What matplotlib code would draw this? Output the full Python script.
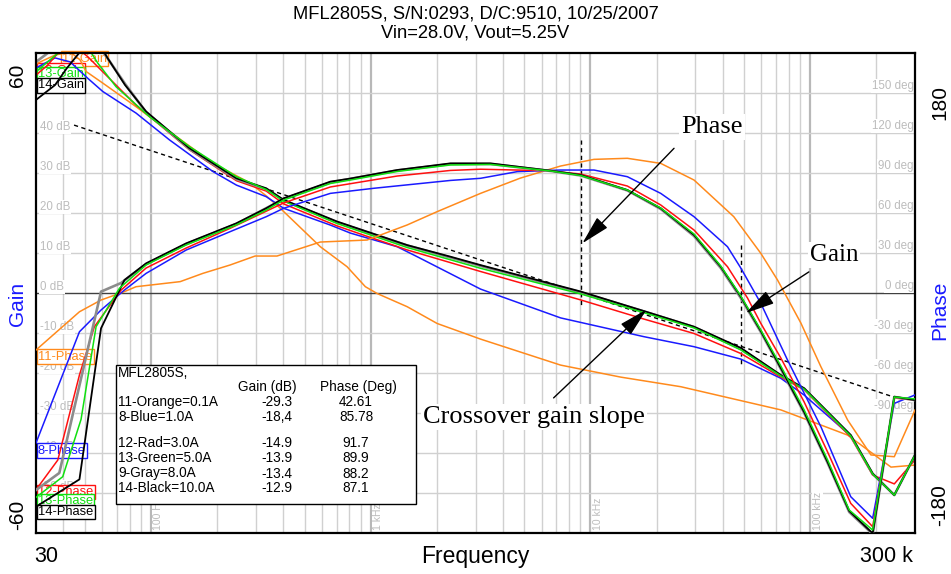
import matplotlib
matplotlib.use('Agg')
import matplotlib.pyplot as plt
from matplotlib.patches import Rectangle
from matplotlib.ticker import NullLocator

plt.rcParams['font.family'] = ['Liberation Sans', 'DejaVu Sans']

W, H = 951, 574

# --- gain curves (Hz, dB) ---
f_orange_gain = [30, 36.6, 42.9, 47.6, 50.7, 60.4, 85.6, 121.5, 191.5, 283, 335, 388, 590, 781, 946,
                 1070, 1466, 2008, 3163, 7318, 13730, 25770, 73560, 148100, 233300, 300000]
orange_gain = [57.2, 59.4, 60.2, 58.2, 55.3, 52.4, 46.5, 40.3, 32.4, 27.4, 24.2, 21.1, 11.5, 6.5, 1.5,
               -0.2, -3.5, -7.7, -11.6, -18.1, -21.1, -23.5, -29.3, -35.6, -43.6, -43.1]

f_blue_gain = [30, 36.6, 42.9, 51.6, 60.4, 85.6, 121.5, 191.5, 245, 335, 402, 656, 809, 1320, 1628,
               3163, 7318, 17540, 29620, 48360, 73560, 93940, 153000, 192500, 241500, 300000]
blue_gain = [56.2, 58.7, 57.7, 53.6, 50.3, 44.9, 38.2, 30.3, 26.9, 24.0, 21.1, 16.9, 14.9, 11.5, 9.0,
             0.9, -6.3, -11.0, -13.5, -16.6, -21.4, -25.6, -35.8, -45.3, -50.6, -40.6]

f_red_gain = [30, 33.9, 38.3, 43.8, 51.6, 62.5, 85.6, 150, 245, 335, 402, 703, 929, 1466, 3163,
              9026, 17540, 29620, 48360, 73560, 93940, 153000, 192500, 241500, 300000]
red_gain = [54.4, 56.9, 60.3, 62.2, 59.0, 54.4, 46.9, 35.7, 28.0, 25.4, 22.2, 16.7, 14.4, 10.7, 5.3,
            -1.8, -6.6, -10.2, -15.2, -21.1, -24.3, -36.1, -45.6, -47.8, -41.8]

f_green_gain = [30, 34.7, 39.4, 45.1, 51.8, 57.3, 69.4, 98.5, 150, 245, 335, 402, 703, 1466, 3163,
                9026, 17540, 29620, 48360, 73560, 93940, 153000, 192500, 241500, 300000]
green_gain = [55.2, 58.2, 60.7, 62.2, 61.2, 57.4, 51.5, 44.0, 36.5, 29.0, 25.8, 22.9, 17.3, 11.3, 6.1,
              -0.3, -5.0, -8.8, -14.3, -20.8, -24.1, -35.8, -45.3, -50.6, -40.6]

f_gray_gain = [30, 33.0, 36.6, 55.7, 61.2, 76.3, 95.1, 150, 245, 335, 402, 703, 1466, 3163,
               9026, 17540, 29620, 48360, 73560, 93940, 153000, 192500, 241500, 300000]
gray_gain = [57.7, 59.4, 61.4, 61.9, 59.9, 52.2, 45.1, 35.9, 28.4, 25.9, 23.1, 17.6, 11.8, 6.7,
             0.1, -4.7, -8.6, -14.1, -20.7, -24.0, -35.7, -45.3, -50.6, -40.6]

f_black_gain = [30, 36.6, 41.4, 47.6, 52.9, 60.4, 63.6, 76.3, 95.1, 150, 245, 335, 402, 703, 1466,
                2308, 3163, 9026, 17540, 29620, 48360, 73560, 93940, 153000, 192500, 241500, 300000]
black_gain = [48.2, 51.9, 56.1, 60.2, 62.2, 60.7, 58.6, 51.9, 45.3, 36.1, 28.6, 26.1, 23.2, 17.8, 11.9,
              9.0, 6.9, 0.3, -4.6, -8.5, -13.8, -20.6, -23.9, -35.6, -45.2, -50.6, -40.6]

# --- phase curves (Hz, deg) ---
f_orange_phase = [30, 47.3, 59.3, 75.8, 85.6, 135.9, 172.4, 229.5, 298, 374.8, 590, 963, 1466, 2008, 3163,
                  4810, 7318, 10380, 14730, 20890, 29620, 44930, 59640, 71050, 90700, 111900, 148100,
                  189100, 241500, 300000]
orange_phase = [-43, -14.3, -5.5, 0.8, 4.5, 8.3, 14.5, 20.8, 27.5, 27.5, 38, 39.5, 50.8, 60.8, 74.5,
                86, 95, 100, 100.8, 97, 84.5, 57, 29.5, 9.5, -22.7, -55.5, -95.5,
                -121.7, -123, -88]

f_blue_phase = [30, 47.3, 59.3, 75.8, 95.1, 144.7, 229.5, 334.8, 401.7, 655.6, 1032, 2308, 3163, 4646,
                7318, 10380, 14730, 20890, 29620, 42050, 48360, 59640, 78900, 111900, 153000, 192500,
                241500, 300000]
blue_phase = [-112.7, -29.3, -13, 2.0, 14.5, 32, 45.8, 57, 63.3, 74.5, 78.3, 84.2, 85.8, 90.8,
              92, 92, 87, 74.5, 57, 34.5, 18.5, -8, -50.5, -100.5, -153, -169.2,
              -83, -76.7]

f_red_phase = [30, 37.7, 47.3, 55.3, 73.2, 95.1, 144.7, 229.5, 401.7, 655.6, 1320, 2308, 3163, 6366,
               9026, 14730, 20890, 29620, 42050, 51870, 59640, 73560, 93940, 120100, 153000, 192500,
               241500, 300000]
red_phase = [-147.8, -125.5, -61.7, -25.5, 2.0, 18.5, 33.5, 48.3, 67.3, 79.3, 87.5, 91.7, 92.6, 91.5,
             89.0, 80.0, 65.8, 47.0, 19.5, -4.0, -23.0, -49.0, -82.0, -119.5, -158.0, -175.5,
             -79.0, -80.5]

f_green_phase = [30, 39.7, 48.1, 56.3, 71.9, 95.1, 144.7, 244.5, 334.8, 401.7, 655.6, 809, 1320, 2308,
                 3510, 6590, 9026, 14730, 20890, 29620, 39210, 48360, 59640, 73560, 93940, 120100,
                 150600, 192500, 241500, 300000]
green_phase = [-153.5, -138, -95, -25.5, 3.3, 20.8, 35.8, 50.8, 62, 69.5, 81.9, 84.5, 90.9, 95.8,
               96.2, 91.3, 87.9, 77, 63.5, 44, 20, -2.5, -28, -55, -88, -125.5,
               -163, -178, -78.2, -79.7]

f_gray_phase = [30, 38.3, 59.3, 73.2, 95.1, 144.7, 244.5, 401.7, 655.6, 1320, 2308, 3510, 6590, 9026,
                14730, 20890, 29620, 39210, 48360, 59640, 73560, 93940, 120100, 150600, 192500,
                241500, 300000]
gray_phase = [-148, -135.2, 0.8, 7.3, 21.5, 36.5, 51.5, 70.3, 82.7, 91.7, 96.5, 96.5, 91.3, 87.9,
              76.7, 62.8, 42.5, 18.5, -4, -29.5, -57.2, -90.2, -127.7, -164.5, -181,
              -78.2, -80.5]

f_black_phase = [30, 47.3, 59.3, 75.8, 95.1, 144.7, 244.5, 334.8, 401.7, 655.6, 809, 1320, 2308, 3510,
                 6590, 9026, 14730, 20890, 29620, 39210, 48360, 59640, 73560, 93940, 120100, 150600,
                 192500, 241500, 300000]
black_phase = [-160.5, -140, -26.7, 9.5, 22, 37, 52, 63.3, 70.8, 83.3, 85.6, 92, 97, 97,
               91.5, 88.3, 77, 63.3, 43.3, 19.5, -3, -28.7, -56.5, -89.5, -127, -163.7,
               -180.5, -78, -80.5]

# guide lines: -20 dB/dec slope and the two crossover markers
slope_freq = [44.7, 240600]
slope_gain = [41.9, -26.1]
marker_freq = [9070, 48600]
marker_top = [38.2, 11.9]
marker_bottom = [-3.6, -18.1]

# summary table
table_names = ['11-Orange=0.1A', '8-Blue=1.0A', '12-Rad=3.0A', '13-Green=5.0A', '9-Gray=8.0A', '14-Black=10.0A']
table_gain = ['-29.3', '-18,4', '-14.9', '-13.9', '-13.4', '-12.9']
table_phase = ['42.61', '85.78', '91.7', '89.9', '88.2', '87.1']

ORANGE = '#ff8a1c'
BLUE = '#1a1aff'
RED = '#ff1010'
GREEN = '#10e010'
GRAY = '#8c8c8c'
GRID = '#d0d0d0'
LABEL = '#bcbcbc'


def fx(x):
    return x / W


def fy(y):
    return 1 - y / H


fig = plt.figure(figsize=(W / 100, H / 100), dpi=100)
ax = fig.add_axes([fx(36), fy(532.7), 879 / W, 480 / H])
ax.set_xscale('log')
ax.set_xlim(30, 300000)
ax.set_ylim(-60, 60)
for a in (ax.xaxis, ax.yaxis):
    a.set_major_locator(NullLocator())
    a.set_minor_locator(NullLocator())
for s in ax.spines.values():
    s.set_color('black')
    s.set_linewidth(1.6)

ax2 = ax.twinx()
ax2.set_ylim(-180, 180)
ax2.yaxis.set_major_locator(NullLocator())
ax2.yaxis.set_minor_locator(NullLocator())
for s in ax2.spines.values():
    s.set_visible(False)

# grid
for dec in [10, 100, 1000, 10000, 100000]:
    for k in range(1, 10):
        f = dec * k
        if f <= 30 or f >= 300000:
            continue
        if k == 1:
            ax.axvline(f, color='#b8b8b8', lw=1.6, zorder=0.5)
        else:
            ax.axvline(f, color=GRID, lw=1.0, zorder=0.5)
for v in range(-50, 60, 10):
    if v == 0:
        ax.axhline(v, color='#404040', lw=1.0, zorder=0.6)
    else:
        ax.axhline(v, color=GRID, lw=1.0, zorder=0.5)

box = dict(facecolor='white', edgecolor='none', pad=0.6)
for v in range(-50, 60, 10):
    ax.text(31.3, v + 0.7, '%d dB' % v, color=LABEL, fontsize=8.3, va='baseline', ha='left',
            bbox=box, zorder=0.8)
for v in range(150, -120, -30):
    ax.text(296000, v / 3 + 0.9, '%d deg' % v, color=LABEL, fontsize=8.3, va='baseline', ha='right',
            bbox=box, zorder=0.8)
for f, s in [(100, '100 Hz'), (1000, '1 kHz'), (10000, '10 kHz'), (100000, '100 kHz')]:
    ax.text(f * 1.025, -59.4, s, color=LABEL, fontsize=7.5, rotation=90, ha='left', va='bottom',
            bbox=box, zorder=0.8)

# curve tags at the left edge
tags = [(62, 58.5, '11-Gain', ORANGE, ORANGE),
        (38, 70.5, '12-Gain', RED, RED),
        (38, 74, '13-Gain', GREEN, GREEN),
        (38, 85.5, '14-Gain', 'black', 'black'),
        (38, 356.5, '11-Phase', ORANGE, ORANGE),
        (38, 450.5, '8-Phase', BLUE, BLUE),
        (38, 492, '12-Phase', RED, RED),
        (38, 501, '13-Phase', GREEN, GREEN),
        (38, 512, '14-Phase', 'black', 'black')]
for i, (x, y, s, tc, ec) in enumerate(tags):
    ax.text(fx(x), fy(y), s, transform=fig.transFigure, color=tc, fontsize=9.3, ha='left', va='center',
            bbox=dict(boxstyle='square,pad=0.1', facecolor='white', edgecolor=ec, lw=1),
            zorder=1 + i * 0.01)

# guide lines
ax.plot(slope_freq, slope_gain, color='black', lw=1.0, ls=(0, (3, 2.5)), zorder=1.5)
for f, y0, y1 in zip(marker_freq, marker_top, marker_bottom):
    ax.plot([f, f], [y0, y1], color='black', lw=1.0, ls=(0, (3, 2.5)), zorder=1.5)

# gain traces
ax.plot(f_orange_gain, orange_gain, color=ORANGE, lw=1.1, zorder=2)
ax.plot(f_blue_gain, blue_gain, color=BLUE, lw=1.1, zorder=2.1)
ax.plot(f_red_gain, red_gain, color=RED, lw=1.1, zorder=2.2)
ax.plot(f_gray_gain, gray_gain, color=GRAY, lw=1.9, zorder=2.3)
ax.plot(f_black_gain, black_gain, color='black', lw=1.3, zorder=2.4)
ax.plot(f_green_gain, green_gain, color=GREEN, lw=1.1, zorder=2.5)

# phase traces
ax2.plot(f_orange_phase, orange_phase, color=ORANGE, lw=1.1, zorder=2)
ax2.plot(f_blue_phase, blue_phase, color=BLUE, lw=1.1, zorder=2.1)
ax2.plot(f_red_phase, red_phase, color=RED, lw=1.1, zorder=2.2)
ax2.plot(f_gray_phase, gray_phase, color=GRAY, lw=1.9, zorder=2.3)
ax2.plot(f_black_phase, black_phase, color='black', lw=1.3, zorder=2.4)
ax2.plot(f_green_phase, green_phase, color=GREEN, lw=1.1, zorder=2.5)

# callouts
arrow = dict(arrowstyle='-|>,head_length=1.8,head_width=0.45', color='black', lw=1.0,
             mutation_scale=10, shrinkA=0, shrinkB=0)
serif = ['Liberation Serif', 'DejaVu Serif']
wbox = dict(facecolor='white', edgecolor='none', pad=1.5)
ax2.annotate('', xy=(9190, 12.35), xytext=(24020, 36.1), xycoords=ax.transData,
             textcoords=ax.transData, arrowprops=arrow, zorder=6)
ax2.annotate('', xy=(50940, -5.1), xytext=(98670, 5.2), xycoords=ax.transData,
             textcoords=ax.transData, arrowprops=arrow, zorder=6)
ax2.annotate('', xy=(18030, -4.2), xytext=(6800, -26.3), xycoords=ax.transData,
             textcoords=ax.transData, arrowprops=arrow, zorder=6)
ax2.text(35680, 41.4, 'Phase', transform=ax.transData, family=serif, fontsize=19,
         ha='center', va='center', bbox=wbox, zorder=7)
ax2.text(128300, 9.4, 'Gain', transform=ax.transData, family=serif, fontsize=18,
         ha='center', va='center', bbox=wbox, zorder=7)
ax2.text(5515, -31.1, 'Crossover gain slope', transform=ax.transData, family=serif, fontsize=19,
         ha='center', va='center', bbox=wbox, zorder=7)

# summary table
fig.add_artist(Rectangle((fx(116), fy(504)), 300 / W, 139 / H, transform=fig.transFigure,
                         facecolor='white', edgecolor='black', lw=1.0, zorder=3))
fig.text(fx(118), fy(373), 'MFL2805S,', fontsize=9.8, ha='left', va='center', zorder=4)
fig.text(fx(267), fy(387), 'Gain (dB)', fontsize=9.8, ha='center', va='center', zorder=4)
fig.text(fx(358), fy(387), 'Phase (Deg)', fontsize=9.8, ha='center', va='center', zorder=4)
rows_y = [402, 417, 443, 458.5, 473.5, 488]
for y, name, g, p in zip(rows_y, table_names, table_gain, table_phase):
    fig.text(fx(118), fy(y), name, fontsize=9.8, ha='left', va='center', zorder=4)
    fig.text(fx(277), fy(y), g, fontsize=9.8, ha='center', va='center', zorder=4)
    fig.text(fx(356), fy(y), p, fontsize=9.8, ha='center', va='center', zorder=4)

# titles and axis captions
fig.text(0.5, fy(14), 'MFL2805S, S/N:0293, D/C:9510, 10/25/2007', fontsize=13.2, ha='center', va='center')
fig.text(0.5, fy(33), 'Vin=28.0V, Vout=5.25V', fontsize=13.2, ha='center', va='center')
fig.text(fx(18), fy(75), '60', fontsize=15, rotation=90, ha='center', va='center')
fig.text(fx(18), fy(515), '-60', fontsize=15, rotation=90, ha='center', va='center')
fig.text(fx(18), fy(304), 'Gain', fontsize=15, color='#1a1aff', rotation=90, ha='center', va='center')
fig.text(fx(940), fy(103), '180', fontsize=15, rotation=90, ha='center', va='center')
fig.text(fx(940), fy(505), '-180', fontsize=15, rotation=90, ha='center', va='center')
fig.text(fx(940), fy(310), 'Phase', fontsize=15, color='#1a1aff', rotation=90, ha='center', va='center')
fig.text(fx(46), fy(556), '30', fontsize=15.5, ha='center', va='center')
fig.text(0.5, fy(556), 'Frequency', fontsize=16.5, ha='center', va='center')
fig.text(fx(886), fy(556), '300 k', fontsize=15.5, ha='center', va='center')

fig.savefig('out.png', dpi=100)
